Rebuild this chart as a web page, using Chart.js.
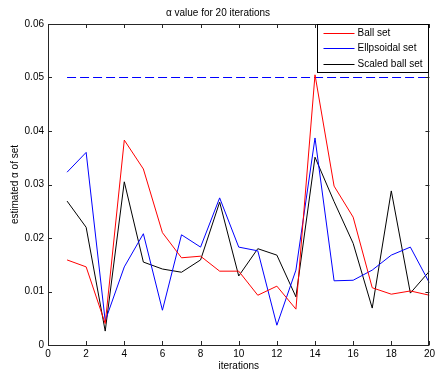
<!DOCTYPE html>
<html>
<head>
<meta charset="utf-8">
<script src="https://cdn.jsdelivr.net/npm/chart.js@4"></script>
<style>
  body { margin: 0; background: #fff; }
  #wrap { width: 438px; height: 374px; }
</style>
</head>
<body>
<div id="wrap"><canvas id="myChart" width="438" height="374"></canvas></div>
<script>
const iterations = [1, 2, 3, 4, 5, 6, 7, 8, 9, 10, 11, 12, 13, 14, 15, 16, 17, 18, 19, 20];
const ballSet = [0.0159, 0.0146, 0.0040, 0.0383, 0.0329, 0.0210, 0.0163, 0.0166, 0.0138, 0.0138,
  0.0093, 0.0110, 0.0067, 0.0505, 0.0297, 0.0239, 0.0107, 0.0095, 0.0101, 0.0093];
const ellipsoidalSet = [0.0323, 0.0360, 0.0045, 0.0146, 0.0208, 0.0065, 0.0206, 0.0183, 0.0275, 0.0183,
  0.0176, 0.0037, 0.0140, 0.0387, 0.0120, 0.0121, 0.0140, 0.0168, 0.0183, 0.0116];
const scaledBallSet = [0.0269, 0.0220, 0.0026, 0.0305, 0.0155, 0.0142, 0.0136, 0.0159, 0.0267, 0.0129,
  0.0180, 0.0168, 0.0090, 0.0351, 0.0268, 0.0190, 0.0069, 0.0288, 0.0097, 0.0138];
const thresholdLine = [0.05, 0.05];
const thresholdIters = [1, 20];
const seriesNames = ["Ball set", "Ellpsoidal set", "Scaled ball set"];
const seriesColors = ["#ff0000", "#0000ff", "#000000"];
const yTickLabels = ["0", "0.01", "0.02", "0.03", "0.04", "0.05", "0.06"];
const xTickLabels = ["0", "2", "4", "6", "8", "10", "12", "14", "16", "18", "20"];

const FONT = "'Liberation Sans', Arial, sans-serif";

function toPoints(xs, ys) {
  return xs.map((x, i) => ({ x: x, y: ys[i] }));
}

// matlab style box with ticks pointing inward
const boxPlugin = {
  id: "box",
  afterDatasetsDraw(chart) {
    const ctx = chart.ctx;
    const a = chart.chartArea;
    const xs = chart.scales.x;
    const ys = chart.scales.y;
    ctx.save();
    ctx.strokeStyle = "#262626";
    ctx.lineWidth = 1;
    ctx.setLineDash([]);
    ctx.beginPath();
    xs.ticks.forEach(t => {
      const px = Math.round(xs.getPixelForValue(t.value)) + 0.5;
      ctx.moveTo(px, a.bottom);
      ctx.lineTo(px, a.bottom - 4);
      ctx.moveTo(px, a.top);
      ctx.lineTo(px, a.top + 4);
    });
    ys.ticks.forEach(t => {
      const py = Math.round(ys.getPixelForValue(t.value)) + 0.5;
      ctx.moveTo(a.left, py);
      ctx.lineTo(a.left + 4, py);
      ctx.moveTo(a.right, py);
      ctx.lineTo(a.right - 4, py);
    });
    ctx.stroke();
    ctx.strokeRect(Math.round(a.left) + 0.5, Math.round(a.top) + 0.5,
      Math.round(a.right - a.left) - 1, Math.round(a.bottom - a.top));

    // legend box in the top right corner
    const bw = 111, bh = 48;
    const bx = Math.round(a.right) - bw - 0.5;
    const by = Math.round(a.top) + 0.5;
    ctx.fillStyle = "#fff";
    ctx.fillRect(bx, by, bw, bh);
    ctx.strokeStyle = "#000";
    ctx.strokeRect(bx, by, bw, bh);
    ctx.font = "10px " + FONT;
    ctx.textBaseline = "middle";
    seriesNames.forEach((name, i) => {
      const ly = Math.round(by + 8 + i * 15.5) + 0.5;
      ctx.strokeStyle = seriesColors[i];
      ctx.beginPath();
      ctx.moveTo(bx + 6, ly);
      ctx.lineTo(bx + 37, ly);
      ctx.stroke();
      ctx.fillStyle = "#000";
      ctx.fillText(name, bx + 40, ly);
    });
    ctx.restore();
  }
};

new Chart(document.getElementById("myChart"), {
  type: "line",
  data: {
    datasets: [
      { label: seriesNames[0], data: toPoints(iterations, ballSet), borderColor: seriesColors[0] },
      { label: seriesNames[1], data: toPoints(iterations, ellipsoidalSet), borderColor: seriesColors[1] },
      { label: seriesNames[2], data: toPoints(iterations, scaledBallSet), borderColor: seriesColors[2] },
      { label: "threshold", data: toPoints(thresholdIters, thresholdLine), borderColor: "#0000ff", borderDash: [9, 4] }
    ]
  },
  options: {
    responsive: false,
    animation: false,
    events: [],
    elements: {
      line: { borderWidth: 1, tension: 0, fill: false },
      point: { radius: 0 }
    },
    layout: { padding: { right: 2, left: 0, top: 0, bottom: 0 } },
    plugins: {
      legend: { display: false },
      tooltip: { enabled: false },
      title: {
        display: true,
        text: "\u03b1 value for 20 iterations",
        color: "#000",
        font: { family: FONT, size: 10, weight: "normal" },
        padding: { top: 7, bottom: 5 }
      }
    },
    scales: {
      x: {
        type: "linear",
        min: 0,
        max: 20,
        ticks: {
          stepSize: 2,
          color: "#000",
          padding: 3,
          maxRotation: 0,
          font: { family: FONT, size: 10 },
          callback: (v, i) => xTickLabels[i]
        },
        grid: { display: false, drawTicks: false },
        border: { display: false },
        title: {
          display: true,
          text: "iterations",
          color: "#000",
          font: { family: FONT, size: 10 },
          padding: { top: 0, bottom: 2 }
        },
        afterFit: s => { s.height = 29; }
      },
      y: {
        min: 0,
        max: 0.06,
        ticks: {
          stepSize: 0.01,
          color: "#000",
          padding: 4,
          font: { family: FONT, size: 10 },
          callback: (v, i) => yTickLabels[i]
        },
        grid: { display: false, drawTicks: false },
        border: { display: false },
        title: {
          display: true,
          text: "estimated \u03b1 of set",
          color: "#000",
          font: { family: FONT, size: 10 },
          padding: { top: 9, bottom: 0 }
        },
        afterFit: s => { s.width = 48; }
      }
    }
  },
  plugins: [boxPlugin]
});
</script>
</body>
</html>
